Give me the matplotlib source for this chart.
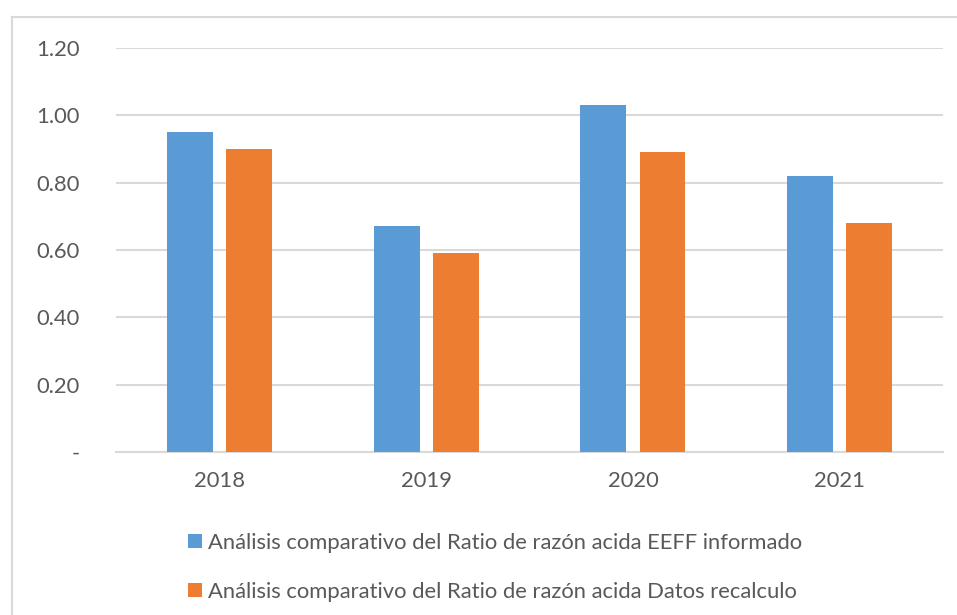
import numpy as np
import matplotlib
matplotlib.use("Agg")
import matplotlib.pyplot as plt
from matplotlib.lines import Line2D

# data
years = ["2018", "2019", "2020", "2021"]
eeff_informado = [0.95, 0.67, 1.03, 0.82]
datos_recalculo = [0.90, 0.59, 0.89, 0.68]
series_labels = [
    "Análisis comparativo del Ratio de razón acida EEFF informado",
    "Análisis comparativo del Ratio de razón acida Datos recalculo",
]
yticks = [0.0, 0.2, 0.4, 0.6, 0.8, 1.0, 1.2]
ytick_labels = ["-", "0.20", "0.40", "0.60", "0.80", "1.00", "1.20"]

blue = "#5B9BD5"
orange = "#ED7D31"
grid_col = "#D9D9D9"
text_col = "#595959"
fsz = 15.8

plt.rcParams["font.family"] = ["Lato", "DejaVu Sans"]

fig = plt.figure(figsize=(9.57, 6.15), dpi=100)
ax = fig.add_axes([0.1212, 0.265, 0.8642, 0.657])

x = np.arange(len(years))
bw = 0.222
off = 0.143
b1 = ax.bar(x - off, eeff_informado, bw, color=blue, label=series_labels[0], zorder=3)
b2 = ax.bar(x + off, datos_recalculo, bw, color=orange, label=series_labels[1], zorder=3)

ax.set_xlim(-0.5, len(years) - 0.5)
ax.set_ylim(0, 1.2)
ax.set_yticks(yticks)
ax.set_yticklabels(ytick_labels)
ax.set_xticks(x)
ax.set_xticklabels(years)
ax.yaxis.grid(True, color=grid_col, linewidth=1.5, zorder=0)
ax.set_axisbelow(True)
for s in ["top", "right", "left"]:
    ax.spines[s].set_visible(False)
ax.spines["bottom"].set_color(grid_col)
ax.spines["bottom"].set_linewidth(1.5)
ax.tick_params(axis="both", length=0, labelsize=fsz, labelcolor=text_col)
ax.tick_params(axis="y", pad=26)
ax.tick_params(axis="x", pad=14)

leg = fig.legend(handles=[b1, b2], loc="upper left", bbox_to_anchor=(0.1964, 0.134),
                 frameon=False, fontsize=fsz, handlelength=0.62, handleheight=0.62,
                 handletextpad=0.3, labelspacing=1.32, borderpad=0, borderaxespad=0)
for t in leg.get_texts():
    t.set_color(text_col)

# outer chart border (left and top visible in the reference)
fig.add_artist(Line2D([12/957, 12/957], [0, 1 - 17/615], transform=fig.transFigure,
                      color=grid_col, linewidth=1.5))
fig.add_artist(Line2D([12/957, 1], [1 - 17/615, 1 - 17/615], transform=fig.transFigure,
                      color=grid_col, linewidth=1.5))

fig.savefig("out.png", dpi=100)
